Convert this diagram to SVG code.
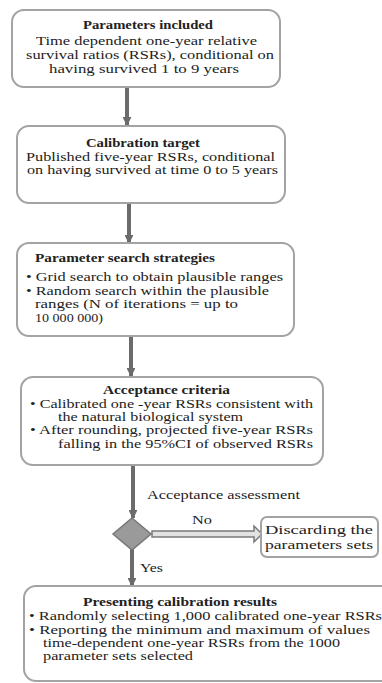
<svg xmlns="http://www.w3.org/2000/svg" width="382" height="683" viewBox="0 0 382 683">
<defs>
<marker id="ah" viewBox="0 0 10 10" refX="9" refY="5" markerWidth="2.2" markerHeight="2.2" orient="auto" markerUnits="strokeWidth">
<path d="M0,0 L10,5 L0,10 z" fill="#6b6b6b"/>
</marker>
<style>
.box{fill:#fff;stroke:#a3a3a3;stroke-width:2}
.t{font-family:"Liberation Serif","Times New Roman",serif;font-size:11.5px;fill:#222}
.b{font-weight:bold}
.arr{stroke:#6b6b6b;stroke-width:4;fill:none}
</style>
</defs>
<rect width="382" height="683" fill="#fff"/>
<g id="connectors">
<line class="arr" x1="127" y1="87" x2="127" y2="125" marker-end="url(#ah)"/>
<line class="arr" x1="129" y1="203" x2="129" y2="243" marker-end="url(#ah)"/>
<line class="arr" x1="131" y1="336" x2="131" y2="376" marker-end="url(#ah)"/>
<line class="arr" x1="133" y1="465" x2="133" y2="518" marker-end="url(#ah)"/>
<line class="arr" x1="132" y1="549" x2="132" y2="586" marker-end="url(#ah)"/>
<polygon points="152,531 254,531 254,526 262,534 254,542 254,537 152,537" fill="#e2e2e2" stroke="#7a7a7a" stroke-width="1.5" stroke-linejoin="miter"/>
<text class="t" x="147" y="499" textLength="153" lengthAdjust="spacingAndGlyphs">Acceptance assessment</text>
<text class="t" x="192" y="524" textLength="20" lengthAdjust="spacingAndGlyphs">No</text>
<text class="t" x="140" y="572" textLength="23" lengthAdjust="spacingAndGlyphs">Yes</text>
</g>
<g id="n1">
<rect class="box" x="12" y="10" width="268" height="77" rx="12"/>
<text class="t b" x="83" y="29" textLength="130" lengthAdjust="spacingAndGlyphs">Parameters included</text>
<text class="t" x="36" y="45" textLength="221" lengthAdjust="spacingAndGlyphs">Time dependent one-year relative</text>
<text class="t" x="26" y="59" textLength="248" lengthAdjust="spacingAndGlyphs">survival ratios (RSRs), conditional on</text>
<text class="t" x="49" y="73" textLength="190" lengthAdjust="spacingAndGlyphs">having survived 1 to 9 years</text>
</g>
<g id="n2">
<rect class="box" x="17" y="126" width="268" height="77" rx="12"/>
<text class="t b" x="86" y="147" textLength="114" lengthAdjust="spacingAndGlyphs">Calibration target</text>
<text class="t" x="26" y="161" textLength="249" lengthAdjust="spacingAndGlyphs">Published five-year RSRs, conditional</text>
<text class="t" x="27" y="174" textLength="251" lengthAdjust="spacingAndGlyphs">on having survived at time 0 to 5 years</text>
</g>
<g id="n3">
<rect class="box" x="17" y="243" width="277" height="93" rx="12"/>
<text class="t b" x="35" y="262" textLength="180" lengthAdjust="spacingAndGlyphs">Parameter search strategies</text>
<text class="t" x="26" y="281" textLength="257" lengthAdjust="spacingAndGlyphs">• Grid search to obtain plausible ranges</text>
<text class="t" x="26" y="295" textLength="243" lengthAdjust="spacingAndGlyphs">• Random search within the plausible</text>
<text class="t" x="35" y="308" textLength="203" lengthAdjust="spacingAndGlyphs">ranges (N of iterations =  up to</text>
<text class="t" x="35" y="322" textLength="68" lengthAdjust="spacingAndGlyphs">10 000 000)</text>
</g>
<g id="n4">
<rect class="box" x="21" y="377" width="302" height="88" rx="12"/>
<text class="t b" x="103" y="394" textLength="127" lengthAdjust="spacingAndGlyphs">Acceptance criteria</text>
<text class="t" x="30" y="408" textLength="283" lengthAdjust="spacingAndGlyphs">• Calibrated one -year RSRs consistent with</text>
<text class="t" x="58" y="421" textLength="185" lengthAdjust="spacingAndGlyphs">the natural biological system</text>
<text class="t" x="30" y="434" textLength="283" lengthAdjust="spacingAndGlyphs">• After rounding, projected  five-year RSRs</text>
<text class="t" x="58" y="448" textLength="255" lengthAdjust="spacingAndGlyphs">falling in the 95%CI of observed  RSRs</text>
</g>
<g id="decision">
<polygon points="132,518 151,534 132,550 113,534" fill="#9a9a9a" stroke="#777" stroke-width="1.5"/>
</g>
<g id="n5">
<rect class="box" x="261" y="517" width="117" height="40" rx="6"/>
<text class="t" x="265" y="534" textLength="108" lengthAdjust="spacingAndGlyphs">Discarding the</text>
<text class="t" x="265" y="549" textLength="108" lengthAdjust="spacingAndGlyphs">parameters sets</text>
</g>
<g id="n6">
<rect class="box" x="24" y="586" width="372" height="95" rx="12"/>
<text class="t b" x="83" y="606" textLength="194" lengthAdjust="spacingAndGlyphs">Presenting calibration results</text>
<text class="t" x="29" y="620" textLength="353" lengthAdjust="spacingAndGlyphs">• Randomly selecting 1,000  calibrated one-year RSRs</text>
<text class="t" x="29" y="634" textLength="341" lengthAdjust="spacingAndGlyphs">• Reporting the minimum and maximum  of values</text>
<text class="t" x="43" y="647" textLength="297" lengthAdjust="spacingAndGlyphs">time-dependent one-year RSRs from the 1000</text>
<text class="t" x="43" y="660" textLength="150" lengthAdjust="spacingAndGlyphs">parameter sets selected</text>
</g>
</svg>
